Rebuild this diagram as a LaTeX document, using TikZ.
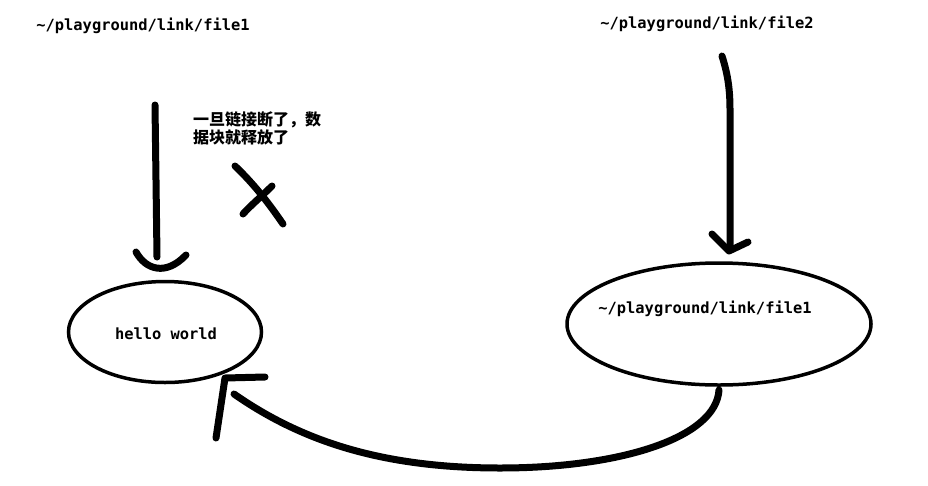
\documentclass[tikz,border=0pt]{standalone}
\usepackage{fontspec}
\setmonofont{DejaVu Sans Mono}
\newfontfamily\cjk{Noto Sans CJK SC}
\usetikzlibrary{shapes.geometric}
\tikzset{
	pen/.style={line width=7pt, line cap=round, line join=round},
	fname/.style={font=\ttfamily\bfseries\fontsize{15.4}{17}\selectfont, inner sep=0pt},
	blob/.style={draw, ellipse, line width=3.5pt, inner sep=0pt}
}

\begin{document}
\begin{tikzpicture}[x=1pt,y=-1pt]
			\useasboundingbox (0,0) rectangle (928,485);
			\node[fname] (file1) at (143,26) {\textasciitilde/playground/link/file1};
			\node[fname] (file2) at (707,24) {\textasciitilde/playground/link/file2};
			\node[blob, minimum width=193pt, minimum height=101pt] (data) at (165,332) {};
			\node[fname] (hello) at (166,334) {hello world};
			\node[blob, minimum width=304pt, minimum height=122pt] (link) at (719,324) {};
			\node[fname] (linkname) at (705,309) {\textasciitilde/playground/link/file1};
			\node[anchor=north west, align=left, inner sep=0pt, font=\cjk\bfseries\fontsize{16}{18}\selectfont] (note) at (193,111) {一旦链接断了，数\\据块就释放了};
			% broken link from file1
			\coordinate (a1) at (155,105);
			\coordinate (a1end) at (157,257);
			\draw[pen] (a1) -- (156,180) -- (a1end);
			\draw[pen] (136,252) .. controls (146,270) and (166,276) .. (186,255);
			\draw[pen] (235,166) .. controls (255,185) and (270,205) .. (283,224);
			\draw[pen] (272,186) .. controls (262,196) and (250,206) .. (243,214);
			% file2 points at file1
			\coordinate (b1) at (722,56);
			\coordinate (b1end) at (730,248);
			\draw[pen] (b1) .. controls (728,75) and (730,90) .. (730,110) -- (b1end);
			\draw[pen] (712,234) -- (729,251) -- (748,242);
			% file1 resolves to the data
			\coordinate (c1) at (719,390);
			\coordinate (c1end) at (234,394);
			\draw[pen] (c1) .. controls (716,438) and (620,468) .. (500,468)
				.. controls (380,468) and (300,440) .. (c1end);
			\draw[pen] (265,377) -- (225,378) -- (216,438);
		\end{tikzpicture}
\end{document}
